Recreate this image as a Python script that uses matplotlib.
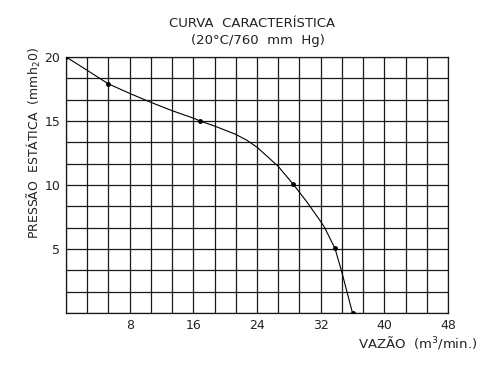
import matplotlib
matplotlib.use("Agg")
from matplotlib import pyplot as plt
import numpy as np

# curve (flow m3/min, pressure mmH2O)
vazao = [0, 2.67, 5.3, 8, 10.67, 13.33, 16, 16.84, 18.67, 21.33, 22.7, 24,
         26.67, 28.56, 30.3, 32, 32.5, 33.8, 34.6, 35.3, 36.0]
pressao = [20, 18.95, 17.9, 17.15, 16.45, 15.8, 15.22, 15, 14.6, 13.95, 13.5,
           12.95, 11.45, 10.05, 8.65, 7.15, 6.67, 5.04, 3.33, 1.67, 0]
# marked points
pts_vazao = [0, 5.3, 16.84, 28.56, 33.8, 36.0]
pts_pressao = [20, 17.9, 15, 10.05, 5.04, 0]

xticks = [8, 16, 24, 32, 40, 48]
yticks = [5, 10, 15, 20]

plt.rcParams['font.family'] = ['DejaVu Sans']
fig = plt.figure(figsize=(5, 3.67), dpi=100)
ax = fig.add_axes([0.132, 0.147, 0.764, 0.698])

# grid: 18 columns x 12 rows
for gx in np.linspace(0, 48, 19):
    ax.axvline(gx, color='#1a1a1a', lw=0.9, zorder=1)
for gy in np.linspace(0, 20, 13):
    ax.axhline(gy, color='#1a1a1a', lw=0.9, zorder=1)

ax.plot(vazao, pressao, color='black', lw=0.8, zorder=3)
ax.plot(pts_vazao, pts_pressao, 'o', color='black', ms=2.5, zorder=4)

ax.set_xlim(0, 48)
ax.set_ylim(0, 20)
ax.set_xticks(xticks)
ax.set_yticks(yticks)
ax.tick_params(length=0, labelsize=9, colors='#222222', pad=4)
for s in ax.spines.values():
    s.set_color('#1a1a1a')
    s.set_linewidth(0.9)

fig.text(0.505, 0.935, 'CURVA  CARACTERÍSTICA', ha='center', va='center',
         fontsize=9.5, color='#222222')
fig.text(0.515, 0.891, '(20°C/760  mm  Hg)', ha='center', va='center',
         fontsize=9.5, color='#222222')
fig.text(0.068, 0.61, 'PRESSÃO  ESTÁTICA  (mmh$_2$0)', rotation=90,
         ha='center', va='center', fontsize=9, color='#222222')
fig.text(0.716, 0.066, 'VAZÃO  (m$^3$/min.)', ha='left', va='center',
         fontsize=9.5, color='#222222')

fig.savefig('out.png', dpi=100)
